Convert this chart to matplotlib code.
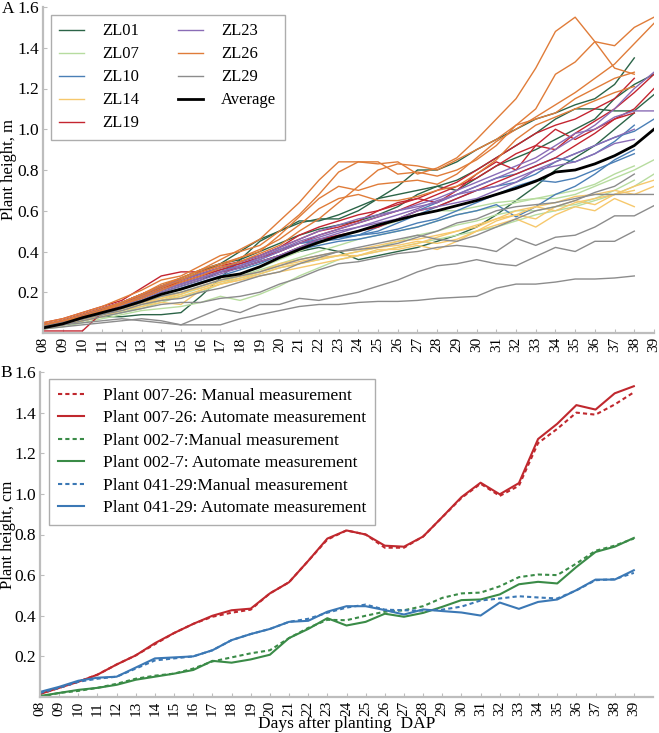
import numpy as np
import matplotlib.pyplot as plt

nan = np.nan
days = np.arange(8, 40)
day_labels = ["%02d" % d for d in days]

# Panel A: plant height (m) for each plant of each genotype, days 08..39
zl01 = [
    [0.03, 0.05, 0.08, 0.11, 0.14, 0.18, 0.22, 0.26, 0.30, 0.34, 0.40, 0.46, 0.50, 0.54, 0.56, 0.56,
     0.60, 0.66, 0.72, 0.80, 0.80, 0.84, 0.90, 0.95, 1.00, 1.05, 1.08, 1.12, 1.15, 1.22, 1.35, nan],
    [0.02, 0.04, 0.06, 0.08, 0.08, 0.09, 0.09, 0.10, 0.18, 0.27, 0.36, 0.45, 0.50, 0.55, 0.55, 0.58,
     0.62, 0.66, 0.68, 0.70, 0.72, 0.75, 0.80, 0.86, 0.92, 0.98, 1.05, 1.10, 1.10, 1.09, 1.09, 1.17],
    [0.03, 0.05, 0.07, 0.10, 0.13, 0.16, 0.20, 0.23, 0.26, 0.30, 0.32, 0.35, 0.38, 0.40, 0.42, 0.40,
     0.36, 0.38, 0.40, 0.42, 0.45, 0.48, 0.52, 0.58, 0.65, 0.72, 0.80, 0.86, 0.92, 1.00, 1.08, nan],
    [0.04, 0.06, 0.09, 0.12, 0.15, 0.19, 0.23, 0.27, 0.31, 0.34, 0.36, 0.40, 0.44, 0.48, 0.51, 0.53,
     0.55, 0.58, 0.62, 0.68, 0.72, 0.70, 0.76, 0.82, 0.86, 0.90, 0.95, 1.00, 1.05, 1.15, 1.22, 1.27],
]
zl07 = [
    [0.02, 0.03, 0.05, 0.07, 0.09, 0.11, 0.12, 0.13, 0.15, 0.18, 0.16, 0.19, 0.23, 0.28, 0.32, 0.36,
     0.38, 0.40, 0.42, 0.44, 0.46, 0.48, 0.50, 0.52, 0.55, 0.58, 0.60, 0.62, 0.65, 0.68, 0.72, 0.78],
    [0.03, 0.04, 0.06, 0.08, 0.10, 0.13, 0.16, 0.19, 0.22, 0.25, 0.28, 0.31, 0.34, 0.37, 0.40, 0.43,
     0.46, 0.48, 0.50, 0.52, 0.55, 0.58, 0.60, 0.62, 0.64, 0.66, 0.66, 0.68, 0.72, 0.76, 0.80, 0.85],
    [0.02, 0.04, 0.06, 0.08, 0.10, 0.12, 0.15, 0.18, 0.20, 0.24, 0.27, 0.29, 0.32, 0.34, 0.36, 0.38,
     0.40, 0.42, 0.45, 0.48, 0.50, 0.53, 0.55, 0.58, 0.60, 0.60, 0.62, 0.63, 0.66, 0.70, 0.75, nan],
    [0.03, 0.05, 0.07, 0.10, 0.12, 0.15, 0.18, 0.20, 0.23, 0.26, 0.29, 0.32, 0.36, 0.40, 0.44, 0.47,
     0.50, 0.52, 0.55, 0.58, 0.60, 0.60, 0.62, 0.64, 0.65, 0.66, 0.68, 0.70, 0.73, 0.78, 0.82, nan],
]
zl10 = [
    [0.03, 0.05, 0.07, 0.10, 0.13, 0.17, 0.21, 0.24, 0.27, 0.30, 0.32, 0.35, 0.38, 0.41, 0.43, 0.45,
     0.46, 0.48, 0.50, 0.52, 0.55, 0.58, 0.60, 0.63, 0.57, 0.62, 0.68, 0.72, 0.78, 0.85, 0.90, nan],
    [0.04, 0.06, 0.09, 0.12, 0.15, 0.19, 0.23, 0.26, 0.29, 0.32, 0.34, 0.37, 0.41, 0.44, 0.45, 0.46,
     0.48, 0.50, 0.54, 0.58, 0.62, 0.66, 0.70, 0.72, 0.74, 0.78, 0.84, 0.88, 0.92, 0.96, 0.99, 1.05],
    [0.03, 0.05, 0.08, 0.11, 0.14, 0.18, 0.22, 0.25, 0.28, 0.31, 0.33, 0.36, 0.40, 0.44, 0.46, 0.47,
     0.48, 0.52, 0.56, 0.60, 0.64, 0.68, 0.72, 0.76, 0.78, 0.82, 0.86, 0.84, 0.88, 0.94, 1.02, nan],
    [0.03, 0.05, 0.07, 0.09, 0.12, 0.15, 0.19, 0.22, 0.25, 0.28, 0.31, 0.34, 0.38, 0.42, 0.45, 0.47,
     0.48, 0.49, 0.51, 0.54, 0.56, 0.60, 0.64, 0.68, 0.72, 0.75, 0.74, 0.76, 0.80, 0.84, 0.88, nan],
]
zl14 = [
    [0.02, 0.04, 0.06, 0.08, 0.11, 0.14, 0.16, 0.18, 0.21, 0.24, 0.26, 0.29, 0.32, 0.34, 0.36, 0.38,
     0.40, 0.42, 0.43, 0.45, 0.44, 0.46, 0.50, 0.53, 0.56, 0.52, 0.58, 0.62, 0.60, 0.66, 0.62, nan],
    [0.03, 0.05, 0.07, 0.10, 0.12, 0.14, 0.17, 0.20, 0.22, 0.25, 0.27, 0.30, 0.33, 0.35, 0.37, 0.38,
     0.38, 0.40, 0.42, 0.44, 0.47, 0.50, 0.52, 0.56, 0.58, 0.62, 0.60, 0.64, 0.66, 0.68, 0.72, 0.75],
    [0.02, 0.04, 0.06, 0.09, 0.11, 0.13, 0.15, 0.14, 0.21, 0.24, 0.26, 0.28, 0.30, 0.32, 0.34, 0.36,
     0.38, 0.41, 0.41, 0.43, 0.41, 0.45, 0.50, 0.55, 0.58, 0.56, 0.62, 0.65, 0.63, 0.68, 0.70, nan],
    [0.03, 0.05, 0.08, 0.10, 0.13, 0.15, 0.17, 0.19, 0.23, 0.26, 0.28, 0.30, 0.34, 0.36, 0.38, 0.40,
     0.41, 0.43, 0.45, 0.46, 0.48, 0.50, 0.53, 0.56, 0.60, 0.62, 0.64, 0.67, 0.68, 0.70, 0.68, 0.72],
]
zl19 = [
    [0.05, 0.07, 0.10, 0.13, 0.16, 0.22, 0.28, 0.30, 0.30, 0.33, 0.35, 0.38, 0.42, 0.48, 0.52, 0.55,
     0.58, 0.60, 0.63, 0.66, 0.70, 0.74, 0.80, 0.86, 0.92, 0.98, 1.02, 1.05, 1.10, 1.15, 1.25, nan],
    [0.04, 0.06, 0.09, 0.12, 0.15, 0.19, 0.23, 0.26, 0.29, 0.32, 0.35, 0.38, 0.42, 0.46, 0.50, 0.52,
     0.55, 0.60, 0.64, 0.66, 0.64, 0.70, 0.78, 0.84, 0.80, 0.92, 1.00, 0.95, 1.00, 1.05, 1.10, 1.20],
    [0.04, 0.06, 0.09, 0.12, 0.15, 0.18, 0.22, 0.25, 0.28, 0.31, 0.34, 0.37, 0.40, 0.44, 0.48, 0.51,
     0.54, 0.57, 0.60, 0.64, 0.68, 0.72, 0.76, 0.82, 0.88, 0.92, 0.90, 0.98, 1.04, 1.10, 1.18, 1.27],
    [0.01, 0.01, 0.01, 0.10, 0.14, 0.17, 0.21, 0.24, 0.27, 0.30, 0.32, 0.35, 0.38, 0.42, 0.46, 0.48,
     0.50, 0.52, 0.56, 0.60, 0.62, 0.66, 0.70, 0.74, 0.78, 0.82, 0.86, 0.92, 0.98, 1.05, 1.08, nan],
]
zl23 = [
    [0.04, 0.06, 0.09, 0.12, 0.15, 0.19, 0.23, 0.26, 0.29, 0.32, 0.35, 0.38, 0.42, 0.46, 0.50, 0.53,
     0.56, 0.58, 0.60, 0.62, 0.64, 0.68, 0.72, 0.76, 0.80, 0.84, 0.90, 0.96, 1.02, 1.10, 1.20, 1.28],
    [0.03, 0.05, 0.08, 0.11, 0.14, 0.18, 0.21, 0.24, 0.27, 0.30, 0.33, 0.36, 0.40, 0.44, 0.47, 0.50,
     0.52, 0.54, 0.56, 0.60, 0.62, 0.64, 0.66, 0.70, 0.74, 0.80, 0.84, 0.88, 0.92, 0.96, 1.00, nan],
    [0.04, 0.06, 0.08, 0.11, 0.14, 0.17, 0.21, 0.24, 0.27, 0.30, 0.33, 0.37, 0.41, 0.45, 0.48, 0.51,
     0.54, 0.57, 0.60, 0.63, 0.66, 0.70, 0.74, 0.78, 0.82, 0.86, 0.92, 0.98, 1.00, 1.06, 1.09, 1.09],
    [0.03, 0.05, 0.07, 0.10, 0.13, 0.16, 0.20, 0.23, 0.26, 0.29, 0.32, 0.35, 0.38, 0.42, 0.46, 0.49,
     0.52, 0.55, 0.58, 0.61, 0.65, 0.68, 0.70, 0.72, 0.76, 0.80, 0.82, 0.84, 0.88, 0.93, 0.95, nan],
]
zl26 = [
    [0.04, 0.06, 0.09, 0.12, 0.15, 0.19, 0.24, 0.27, 0.31, 0.36, 0.41, 0.46, 0.55, 0.64, 0.75, 0.84,
     0.84, 0.83, 0.84, 0.78, 0.81, 0.86, 0.95, 1.05, 1.15, 1.30, 1.48, 1.55, 1.43, 1.41, 1.50, 1.55],
    [0.05, 0.07, 0.10, 0.13, 0.17, 0.21, 0.26, 0.28, 0.33, 0.38, 0.40, 0.43, 0.50, 0.58, 0.68, 0.79,
     0.84, 0.84, 0.78, 0.79, 0.77, 0.80, 0.85, 0.92, 1.02, 1.10, 1.27, 1.33, 1.43, 1.30, 1.27, nan],
    [0.04, 0.06, 0.08, 0.11, 0.15, 0.19, 0.23, 0.27, 0.31, 0.34, 0.37, 0.40, 0.48, 0.57, 0.66, 0.72,
     0.70, 0.73, 0.74, 0.75, 0.73, 0.78, 0.86, 0.94, 1.00, 1.06, 1.12, 1.18, 1.25, 1.32, 1.42, 1.52],
    [0.03, 0.05, 0.08, 0.11, 0.14, 0.18, 0.22, 0.26, 0.30, 0.33, 0.37, 0.41, 0.46, 0.53, 0.61, 0.66,
     0.68, 0.65, 0.65, 0.67, 0.70, 0.72, 0.78, 0.85, 0.95, 1.02, 1.06, 1.10, 1.14, 1.18, 1.21, nan],
    [0.03, 0.05, 0.08, 0.11, 0.14, 0.17, 0.21, 0.25, 0.28, 0.32, 0.35, 0.39, 0.43, 0.50, 0.56, 0.64,
     0.72, 0.80, 0.83, 0.82, 0.80, 0.85, 0.90, 0.95, 1.02, 1.05, 1.08, 1.15, 1.20, 1.25, 1.28, nan],
]
zl29 = [
    [0.03, 0.04, 0.05, 0.06, 0.07, 0.06, 0.05, 0.04, 0.04, 0.04, 0.07, 0.09, 0.11, 0.13, 0.14, 0.14,
     0.15, 0.155, 0.155, 0.16, 0.17, 0.175, 0.18, 0.22, 0.24, 0.24, 0.25, 0.265, 0.265, 0.27, 0.28, nan],
    [0.02, 0.03, 0.04, 0.05, 0.06, 0.07, 0.06, 0.04, 0.08, 0.12, 0.10, 0.14, 0.14, 0.17, 0.16, 0.18,
     0.20, 0.23, 0.26, 0.30, 0.33, 0.34, 0.36, 0.34, 0.33, 0.375, 0.42, 0.40, 0.45, 0.45, 0.50, nan],
    [0.02, 0.04, 0.06, 0.08, 0.10, 0.12, 0.14, 0.15, 0.15, 0.17, 0.18, 0.20, 0.24, 0.27, 0.31, 0.34,
     0.35, 0.37, 0.39, 0.40, 0.42, 0.43, 0.42, 0.40, 0.465, 0.43, 0.47, 0.48, 0.52, 0.575, 0.575, 0.625],
    [0.03, 0.05, 0.07, 0.09, 0.11, 0.14, 0.16, 0.17, 0.20, 0.22, 0.25, 0.28, 0.30, 0.34, 0.37, 0.40,
     0.42, 0.44, 0.46, 0.48, 0.46, 0.45, 0.48, 0.52, 0.56, 0.60, 0.62, 0.65, 0.69, 0.72, 0.78, nan],
    [0.03, 0.05, 0.07, 0.09, 0.12, 0.15, 0.18, 0.20, 0.23, 0.26, 0.28, 0.30, 0.33, 0.36, 0.38, 0.40,
     0.41, 0.42, 0.44, 0.47, 0.50, 0.54, 0.56, 0.60, 0.62, 0.63, 0.64, 0.66, 0.68, 0.68, 0.68, 0.68],
]
average = [0.025, 0.045, 0.075, 0.10, 0.125, 0.155, 0.19, 0.215, 0.245, 0.275, 0.29, 0.325,
           0.37, 0.41, 0.445, 0.475, 0.50, 0.53, 0.555, 0.58, 0.60, 0.625, 0.65, 0.68, 0.71,
           0.745, 0.79, 0.80, 0.83, 0.87, 0.92, 1.00]

genotypes = ["ZL01", "ZL07", "ZL10", "ZL14", "ZL19", "ZL23", "ZL26", "ZL29"]
geno_colors = ["#2b6447", "#b7dc9f", "#4a7fb6", "#f6c86c", "#c42530", "#8a6cb6", "#e07c39", "#8c8c8c"]
plants = [zl01, zl07, zl10, zl14, zl19, zl23, zl26, zl29]

# Panel B: manual vs automatic measurement for three plants
m_007_26 = [0.015, 0.045, 0.075, 0.11, 0.16, 0.205, 0.26, 0.315, 0.36, 0.395, 0.415, 0.43,
            0.51, 0.565, 0.67, 0.775, 0.82, 0.80, 0.735, 0.735, 0.79, 0.885, 0.98, 1.05,
            0.99, 1.04, 1.25, 1.32, 1.40, 1.39, 1.44, 1.50]
a_007_26 = [0.015, 0.045, 0.075, 0.11, 0.16, 0.205, 0.265, 0.315, 0.36, 0.40, 0.427, 0.435,
            0.51, 0.565, 0.67, 0.78, 0.82, 0.80, 0.745, 0.74, 0.79, 0.886, 0.984, 1.055,
            0.998, 1.053, 1.27, 1.345, 1.437, 1.415, 1.495, 1.53]
m_002_7 = [0.0, 0.02, 0.03, 0.045, 0.065, 0.09, 0.105, 0.115, 0.14, 0.175, 0.195, 0.215,
           0.23, 0.29, 0.34, 0.38, 0.378, 0.40, 0.42, 0.427, 0.447, 0.488, 0.51, 0.514,
           0.545, 0.59, 0.603, 0.60, 0.657, 0.72, 0.745, 0.78]
a_002_7 = [0.005, 0.02, 0.035, 0.045, 0.06, 0.085, 0.10, 0.115, 0.133, 0.178, 0.169, 0.185,
           0.208, 0.29, 0.335, 0.388, 0.352, 0.37, 0.41, 0.395, 0.414, 0.444, 0.477, 0.48,
           0.505, 0.555, 0.567, 0.559, 0.64, 0.714, 0.74, 0.783]
m_041_29 = [0.02, 0.045, 0.075, 0.09, 0.10, 0.14, 0.18, 0.19, 0.20, 0.23, 0.28, 0.31,
            0.335, 0.37, 0.385, 0.415, 0.44, 0.455, 0.43, 0.427, 0.425, 0.43, 0.445, 0.475,
            0.485, 0.496, 0.49, 0.485, 0.525, 0.575, 0.58, 0.611]
a_041_29 = [0.025, 0.05, 0.08, 0.095, 0.10, 0.145, 0.19, 0.195, 0.20, 0.23, 0.28, 0.31,
            0.335, 0.37, 0.375, 0.42, 0.447, 0.447, 0.428, 0.406, 0.431, 0.423, 0.416, 0.401,
            0.465, 0.434, 0.468, 0.48, 0.526, 0.578, 0.578, 0.624]

plt.rcParams['font.family'] = ['Liberation Serif', 'DejaVu Serif']
spine_col = "#bdbdbd"

fig = plt.figure(figsize=(6.59, 7.33), dpi=100)
ax1 = fig.add_axes([43 / 659, 1 - 333 / 733, 611 / 659, 326 / 733])
ax2 = fig.add_axes([40 / 659, 1 - 697 / 733, 613 / 659, 325 / 733])


def style_axes(ax, xmax):
    ax.set_xlim(8, xmax)
    ax.set_ylim(0, 1.6)
    ax.set_xticks(days)
    ax.set_xticklabels(day_labels, rotation=90, fontsize=11)
    ax.set_yticks([0.2, 0.4, 0.6, 0.8, 1.0, 1.2, 1.4, 1.6])
    ax.set_yticklabels(["0.2", "0.4", "0.6", "0.8", "1.0", "1.2", "1.4", "1.6"], fontsize=12.5)
    for s in ["top", "right"]:
        ax.spines[s].set_visible(False)
    for s in ["left", "bottom"]:
        ax.spines[s].set_color(spine_col)
        ax.spines[s].set_linewidth(1.6)
    ax.tick_params(direction="in", length=3, width=0.8, color=spine_col, pad=3)


# panel A
for name, col, group in zip(genotypes, geno_colors, plants):
    for i, vals in enumerate(group):
        ax1.plot(days, vals, color=col, lw=1.0, label=name if i == 0 else None)
ax1.plot(days, average, color="black", lw=2.0, label="Average")
style_axes(ax1, 39)
ax1.set_ylabel("Plant height, m", fontsize=12)
ax1.yaxis.set_label_coords(-0.043, 0.5)
ax1.legend(loc="upper left", bbox_to_anchor=(0.013, 0.975), ncol=2, fontsize=12,
           frameon=True, fancybox=False, edgecolor="#999999", borderaxespad=0,
           handlelength=1.5, handletextpad=1.1, columnspacing=2.3, labelspacing=0.42,
           borderpad=0.5)
fig.text(2 / 659, 1 - 9 / 733, "A", fontsize=12.5, va="center", ha="left")

# panel B
ax2.plot(days, m_007_26, color="#c0282e", lw=1.5, ls=(0, (2, 1.5)), label="Plant 007-26: Manual measurement")
ax2.plot(days, a_007_26, color="#c0282e", lw=1.5, label="Plant 007-26: Automate measurement")
ax2.plot(days, m_002_7, color="#3a8b47", lw=1.5, ls=(0, (2, 1.5)), label="Plant 002-7:Manual measurement")
ax2.plot(days, a_002_7, color="#3a8b47", lw=1.5, label="Plant 002-7: Automate measurement")
ax2.plot(days, m_041_29, color="#3b78b5", lw=1.5, ls=(0, (2, 1.5)), label="Plant 041-29:Manual measurement")
ax2.plot(days, a_041_29, color="#3b78b5", lw=1.5, label="Plant 041-29: Automate measurement")
style_axes(ax2, 40)
ax2.set_ylabel("Plant height, cm", fontsize=12)
ax2.yaxis.set_label_coords(-0.039, 0.5)
ax2.set_xlabel("Days after planting  DAP", fontsize=12.5, labelpad=0)
ax2.legend(loc="upper left", bbox_to_anchor=(0.0147, 0.978), fontsize=12.5,
           frameon=True, fancybox=False, edgecolor="#999999", borderaxespad=0,
           handlelength=1.5, handletextpad=1.1, labelspacing=0.36, borderpad=0.5)
fig.text(0 / 659, 1 - 373 / 733, "B", fontsize=12.5, va="center", ha="left")

fig.savefig("out.png", dpi=100)
